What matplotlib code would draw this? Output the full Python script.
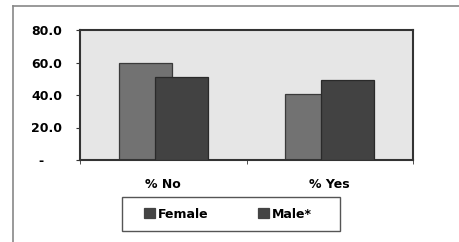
import matplotlib
matplotlib.use("Agg")
import matplotlib.pyplot as plt
from matplotlib.lines import Line2D
from matplotlib.patches import Rectangle
import numpy as np

categories = ["% No", "% Yes"]
series_names = ["Female", "Male*"]
female = [59.7, 40.5]
male = [51.0, 49.0]
ytick_vals = [0, 20, 40, 60, 80]
ytick_labels = ["-    ", "20.0", "40.0", "60.0", "80.0"]

plt.rcParams['font.family'] = ['DejaVu Sans']
plt.rcParams['font.weight'] = 'bold'
FS = 9

fig = plt.figure(figsize=(4.59, 2.42), dpi=100)
ax = fig.add_axes([80/459, 1-160/242, 333/459, 130/242])
ax.set_facecolor('#e6e6e6')

x = np.arange(len(categories))
w = 0.32
off = 0.108
ax.bar(x - off, female, w, color='#727272', edgecolor='#3a3a3a', linewidth=0.9, label=series_names[0], zorder=2)
ax.bar(x + off, male, w, color='#424242', edgecolor='#2a2a2a', linewidth=0.9, label=series_names[1], zorder=3)

ax.set_xlim(-0.5, 1.5)
ax.set_ylim(0, 80)
ax.set_yticks(ytick_vals)
ax.set_yticklabels(ytick_labels, fontsize=FS, fontweight='bold')
ax.set_xticks(x)
ax.set_xticklabels(categories, fontsize=FS, fontweight='bold')
ax.set_xticks([-0.5, 0.5, 1.5], minor=True)
ax.tick_params(axis='x', which='major', length=0, pad=13)
ax.tick_params(axis='x', which='minor', length=3, direction='out', color='#333333')
ax.tick_params(axis='y', length=3, direction='out', pad=10, color='#333333')
for s in ax.spines.values():
    s.set_color('#333333')
    s.set_linewidth(1.5)

# legend box
fig.add_artist(Rectangle((122/459, 1-231/242), 218/459, 34/242, transform=fig.transFigure,
                         facecolor='white', edgecolor='#555555', lw=1.0, zorder=1))
leg = fig.legend(loc='center', bbox_to_anchor=(228/459, 1-214/242), ncol=2,
                 frameon=False,
                 handlelength=0.85, handleheight=0.85, handletextpad=0.25,
                 columnspacing=4.0, borderpad=0.0, borderaxespad=0,
                 prop={'size': FS, 'weight': 'bold'})
leg.set_zorder(2)
for h in leg.legend_handles:
    h.set_facecolor('#444444')
    h.set_edgecolor('#444444')

fig.add_artist(Line2D([13/459, 1.0], [1-6/242, 1-6/242], transform=fig.transFigure, color='#888888', lw=1.2))
fig.add_artist(Line2D([13/459, 13/459], [1-6/242, 0], transform=fig.transFigure, color='#888888', lw=1.2))

fig.savefig("out.png", dpi=100)
